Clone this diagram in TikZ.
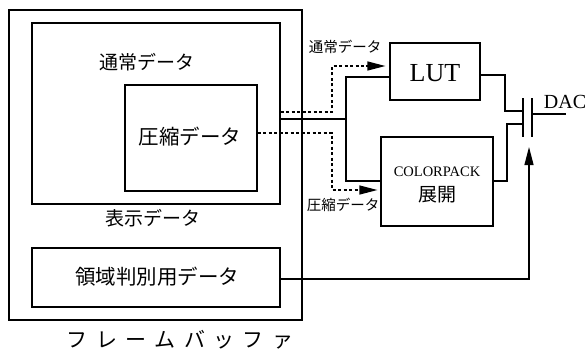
\documentclass[tikz,border=0pt]{standalone}
\usepackage{fontspec}
\setmainfont{Liberation Serif}
\newfontfamily\jp{Noto Sans CJK JP}
\usetikzlibrary{arrows.meta}
\tikzset{
  box/.style={draw, line width=1.2pt, minimum width=#1, inner sep=0pt},
  wire/.style={line width=1.2pt},
  dotwire/.style={line width=1.2pt, dash pattern=on 3pt off 2.5pt},
  tip/.style={-{Triangle[length=18pt,width=9pt]}},
  jlab/.style={font=\jp\fontsize{19}{19}\selectfont, inner sep=0pt},
  slab/.style={font=\jp\fontsize{14.5}{15}\selectfont, inner sep=0pt},
}
\begin{document}
\begin{tikzpicture}[x=1pt,y=-1pt]
\useasboundingbox (0,0) rectangle (588,349);
% frame buffer and contents
\node[box=293pt, minimum height=310pt] (fb) at (155.5,165) {};
\node[box=248pt, minimum height=181pt] (disp) at (156,113.5) {};
\node[box=132pt, minimum height=106pt] (comp) at (191,138) {};
\node[box=248pt, minimum height=59pt] (area) at (156,277.5) {};
\node[jlab] (t1) at (147,62) {通常データ};
\node[jlab, font=\jp\fontsize{20.5}{20}\selectfont] (t2) at (190,137) {圧縮データ};
\node[jlab] (t3) at (153,218) {表示データ};
\node[jlab, font=\jp\fontsize{20.5}{20}\selectfont] (t4) at (157,277) {領域判別用データ};
\node[jlab, font=\jp\fontsize{21}{21}\selectfont] (t5) at (180,340) {フ\hspace{8.3pt}レ\hspace{8.3pt}ー\hspace{8.3pt}ム\hspace{8.3pt}バ\hspace{8.3pt}ッ\hspace{8.3pt}フ\hspace{8.3pt}ァ};
% right blocks
\node[box=90pt, minimum height=57pt] (lut) at (435,71.5) {};
\node[font=\fontsize{26}{26}\selectfont, inner sep=0pt] (lutt) at (435,73) {LUT};
\node[box=112pt, minimum height=89pt] (cp) at (437,181.5) {};
\node[font=\fontsize{14.5}{15}\selectfont, inner sep=0pt] (cpt) at (437,172) {COLORPACK};
\node[font=\jp\fontsize{19}{19}\selectfont, inner sep=0pt] (cpj) at (437,195) {展開};
\node[slab] (s1) at (345,47) {通常データ};
\node[slab] (s2) at (343,205) {圧縮データ};
\node[font=\fontsize{20}{20}\selectfont, inner sep=0pt] (dac) at (565,102) {DAC};
% switch plates
\coordinate (p1t) at (523,98);
\coordinate (p1b) at (523,137);
\coordinate (p2t) at (532,98);
\coordinate (p2b) at (532,137);
\coordinate (dacend) at (566,114);
\draw[wire] (p1t) -- (p1b);
\draw[wire] (p2t) -- (p2b);
\draw[wire] (p2t |- dacend) -- (dacend);
% dotted data paths
\draw[dotwire] (disp.east |- 0,112) -- (332,112) -- (332,66) -- (366,66);
\draw[tip, wire] (366,66) -- ([xshift=-4pt]lut.west |- 0,66);
\draw[dotwire] (comp.east |- 0,133) -- (332,133) -- (332,190) -- (362,190);
\draw[tip, wire] (362,190) -- ([xshift=-3pt]cp.west |- 0,190);
% solid data path
\draw[wire] (disp.east |- 0,119) -- (346,119) -- (346,77) -- (lut.west |- 0,77);
\draw[wire] (346,119) -- (346,181) -- (cp.west |- 0,181);
% outputs
\draw[wire] (lut.east |- 0,75) -- (505,75) -- (505,111) -- (p1t |- 0,111);
\draw[wire] (cp.east |- 0,181) -- (507,181) -- (507,124) -- (p1t |- 0,124);
% area data control
\draw[wire, tip] (area.east |- 0,279) -- (529,279) -- (529,147);
\end{tikzpicture}
\end{document}
